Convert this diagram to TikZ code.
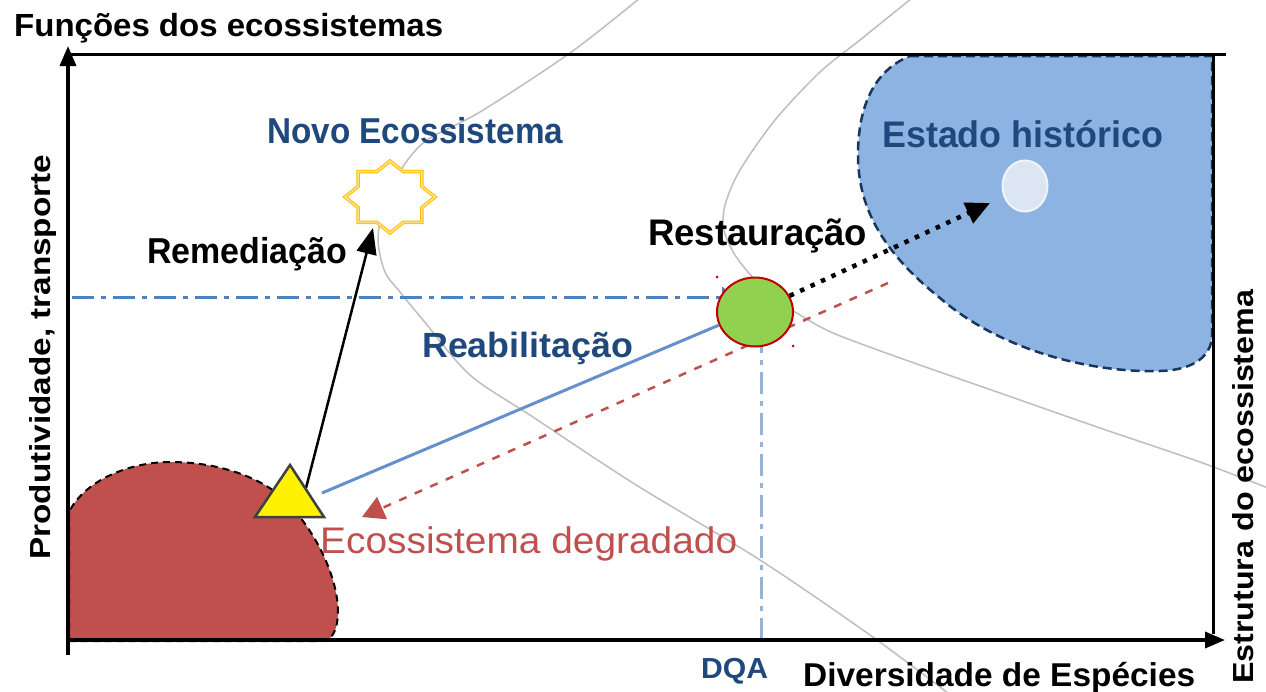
\documentclass[tikz,border=0pt]{standalone}
\usepackage{graphicx}
\usepackage{fontspec}
\setmainfont{Liberation Sans}
\usetikzlibrary{arrows.meta,shapes.geometric}
\definecolor{navy}{RGB}{31,73,125}
\definecolor{dred}{RGB}{192,80,77}
\definecolor{blobblue}{RGB}{141,179,226}
\definecolor{blobedge}{RGB}{23,55,94}
\definecolor{lblue}{RGB}{100,145,205}
\definecolor{dashblue}{RGB}{79,129,189}
\definecolor{vdashblue}{RGB}{149,179,215}
\definecolor{curvegray}{RGB}{190,190,190}
\definecolor{greenfill}{RGB}{146,208,80}
\definecolor{circedge}{RGB}{192,0,0}
\definecolor{histfill}{RGB}{220,230,242}
\definecolor{stargold}{RGB}{255,192,0}
\definecolor{starlight}{RGB}{255,224,140}
\newcommand\fitb[3]{\resizebox{#1pt}{\height}{\fontsize{#2}{#2}\selectfont\bfseries #3}}
\newcommand\fitr[3]{\resizebox{#1pt}{\height}{\fontsize{#2}{#2}\selectfont #3}}
\begin{document}
\begin{tikzpicture}[x=1pt,y=-1pt,
  lbl/.style={inner sep=0pt},
  axisline/.style={line width=3.5pt,black},
  frameline/.style={line width=3pt,black},
  axtip/.style={-{Triangle[length=20pt,width=16pt]}},
  graycurve/.style={curvegray,line width=1.5pt},
  dashdot/.style={line width=3pt,dash pattern=on 22pt off 7pt on 5pt off 7pt}]
\useasboundingbox[fill=white] (0,0) rectangle (1266,691);
% gray curves
\draw[graycurve] plot[smooth] coordinates {(640,-2) (570,53) (480,112) (427,140) (402,168) (384,205) (378,240) (385,272) (400,292) (423,320) (470,375) (533,417) (633,483) (760,560) (870,635) (948,693)};
\draw[graycurve] plot[smooth] coordinates {(912,-2) (860,40) (820,72) (775,120) (740,170) (725,205) (724,230) (735,255) (755,280) (775,298) (800,315) (833,333) (900,358) (1000,393) (1100,428) (1200,462) (1268,488)};
% reference lines
\coordinate (hd0) at (72,297);
\coordinate (hd1) at (736,297);
\coordinate (vd0) at (761,640);
\coordinate (vd1) at (761,326);
\draw[dashdot,dashblue,-{Triangle[length=14pt,width=20pt]}] (hd0) -- (hd1);
\draw[dashdot,vdashblue,-{Triangle[length=14pt,width=28pt]}] (vd0) -- (vd1);
% blobs
\draw[fill=dred,draw=black,line width=2pt,dash pattern=on 7pt off 5pt]
  (69,641) -- (69,512) .. controls (85,480) and (130,462) .. (170,462)
  .. controls (220,462) and (262,478) .. (285,500)
  .. controls (315,530) and (337,575) .. (338,610)
  .. controls (338,630) and (332,641) .. (322,641) -- cycle;
\draw[fill=blobblue,draw=blobedge,line width=2.5pt,dash pattern=on 9pt off 5pt]
  (910,56) -- (1212,56) -- (1212,335) .. controls (1212,355) and (1195,370) .. (1160,371)
  .. controls (1090,373) and (1000,350) .. (940,298)
  .. controls (880,250) and (858,205) .. (858,155)
  .. controls (858,105) and (875,70) .. (910,56) -- cycle;
% axes
\draw[frameline] (68,54) -- (1226,54);
\draw[frameline] (1213,54) -- (1213,634);
\draw[axisline,axtip] (68,655) -- (68,46);
\draw[axisline,axtip] (66,640) -- (1225,640);
% star (Novo Ecossistema)
\coordinate (novo) at (390,197);
\draw[fill=white,draw=stargold,line width=3.5pt,line join=miter]
  plot[samples at={0,22.5,...,337.5},variable=\a] ({390+45*(0.8825+0.1175*cos(8*\a))*cos(\a)},{197+36*(0.8825+0.1175*cos(8*\a))*sin(\a)}) -- cycle;
\draw[draw=starlight,line width=1.5pt,line join=miter]
  plot[samples at={0,22.5,...,337.5},variable=\a] ({390+45*(0.8825+0.1175*cos(8*\a))*cos(\a)},{197+36*(0.8825+0.1175*cos(8*\a))*sin(\a)}) -- cycle;
% historic state dot
\node[ellipse,minimum width=45pt,minimum height=51pt,inner sep=0pt,fill=histfill,draw={rgb,255:red,240;green,244;blue,250},line width=2pt] (hist) at (1025,186) {};
% connectors
\coordinate (rem0) at (306,488);
\coordinate (rem1) at (373,228);
\draw[line width=2.5pt,black,-{Triangle[length=26pt,width=20pt]}] (rem0) -- (rem1);
\coordinate (reab0) at (322,493);
\coordinate (red0) at (888,283);
\coordinate (red1) at (362,517);
\draw[dred,line width=2.5pt,dash pattern=on 8pt off 9pt,-{Triangle[length=22pt,width=24pt]}] (red0) -- (red1);
% green circle
\node[ellipse,minimum width=76pt,minimum height=69pt,inner sep=0pt,fill=greenfill,draw=circedge,line width=2pt] (rest) at (755,312) {};
\draw[lblue,line width=3pt] (reab0) -- (rest.200);
\coordinate (dot1) at (990,203);
\draw[black,line width=4.5pt,dash pattern=on 4.5pt off 7pt,-{Triangle[length=24pt,width=22pt]}] (rest.25) -- (dot1);
\fill[circedge] (717,277) circle (1.5pt);
\fill[circedge] (793,346) circle (1.5pt);
% triangle (degraded)
\coordinate (degr) at (289,500);
\draw[fill=yellow,draw=black!75,line width=2.5pt,line join=miter] (255,517) -- (290,465) -- (324,517) -- cycle;
% labels
\node[lbl,anchor=base west] (ttl) at (14,36) {\fitb{429}{32}{Funções dos ecossistemas}};
\node[lbl,anchor=base west,text=navy] (lnovo) at (267,143) {\fitb{296}{36}{Novo Ecossistema}};
\node[lbl,anchor=base west,text=navy] (lhist) at (882,147) {\fitb{281}{37}{Estado histórico}};
\node[lbl,anchor=base west] (lrest) at (648,245) {\fitb{219}{37}{Restauração}};
\node[lbl,anchor=base west] (lrem) at (147,263) {\fitb{200}{36}{Remediação}};
\node[lbl,anchor=base west,text=navy] (lreab) at (422,357) {\fitb{211}{35}{Reabilitação}};
\node[lbl,anchor=base west,text=dred] (ldeg) at (320,553) {\fitr{417}{37}{Ecossistema degradado}};
\node[lbl,anchor=base west,text=navy] (ldqa) at (701,678) {\fitb{67}{29}{DQA}};
\node[lbl,anchor=base west] (ldiv) at (803,686) {\fitb{392}{33}{Diversidade de Espécies}};
\node[lbl,anchor=base west,rotate=90] (lprod) at (50,560) {\fitb{405}{29}{Produtividade, transporte}};
\node[lbl,anchor=base west,rotate=90] (lestr) at (1253,684) {\fitb{394}{29}{Estrutura do ecossistema}};
\end{tikzpicture}
\end{document}
